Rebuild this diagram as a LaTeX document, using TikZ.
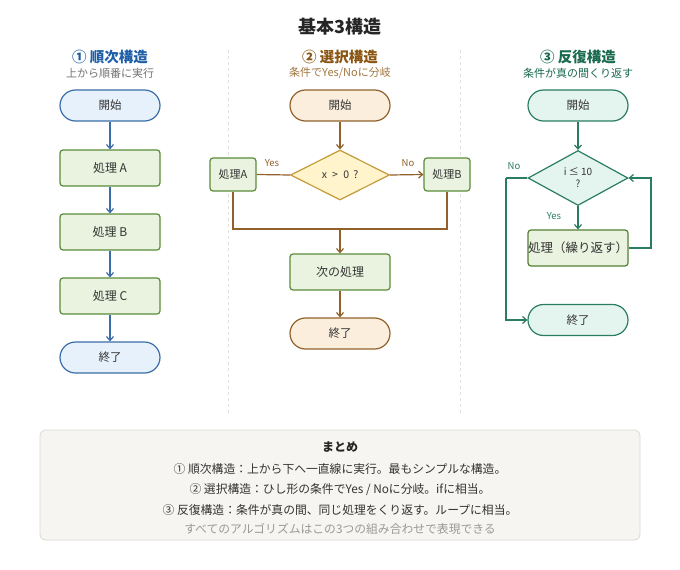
\documentclass[tikz,border=0pt]{standalone}
\usepackage{fontspec}
\setmainfont{Noto Sans CJK JP}
\usetikzlibrary{arrows.meta,shapes.geometric}
\definecolor{bstroke}{HTML}{3A6EA8}
\definecolor{bfill}{HTML}{E7F1FB}
\definecolor{gstroke}{HTML}{5B8C3A}
\definecolor{gfill}{HTML}{EAF3E0}
\definecolor{brstroke}{HTML}{92612A}
\definecolor{brfill}{HTML}{FBEEDD}
\definecolor{ystroke}{HTML}{C49A3A}
\definecolor{yfill}{HTML}{FFF4CC}
\definecolor{tstroke}{HTML}{2A7D63}
\definecolor{tfill}{HTML}{E4F5EF}
\definecolor{txt}{HTML}{333333}
\definecolor{h1}{HTML}{1F5FA8}
\definecolor{h2}{HTML}{8A5512}
\definecolor{h3}{HTML}{1A6A50}
\definecolor{sumfill}{HTML}{F6F5F1}
\definecolor{sumstroke}{HTML}{D9D8D2}
\tikzset{
  pill/.style={rectangle, rounded corners=15.5pt, minimum width=100pt, minimum height=31pt, line width=1.2pt, text=txt, font=\fontsize{11.5}{12}\selectfont, inner sep=0pt},
  proc/.style={rectangle, rounded corners=3pt, draw=gstroke, fill=gfill, minimum width=100pt, minimum height=36pt, line width=1.2pt, text=txt, font=\fontsize{12}{13}\selectfont, inner sep=0pt},
  smallproc/.style={proc, minimum width=46pt, minimum height=33pt, font=\fontsize{11}{12}\selectfont},
  dia/.style={diamond, line width=1.2pt, inner sep=0pt, text=txt, font=\fontsize{10.5}{12}\selectfont},
  arr/.style={-{Straight Barb[length=4pt,width=7pt]}, line width=1.2pt},
  ln/.style={line width=1.2pt},
  lbl/.style={font=\fontsize{9.5}{10}\selectfont},
  head/.style={font=\bfseries\fontsize{14.5}{16}\selectfont},
  sub/.style={font=\fontsize{11}{12}\selectfont},
  sumtxt/.style={font=\fontsize{11.8}{13}\selectfont, text=txt},
  divider/.style={draw=black!12, dashed, line width=0.8pt}
}
\begin{document}
\begin{tikzpicture}[x=1pt,y=-1pt]
\fill[white] (0,0) rectangle (680,570);
\useasboundingbox (0,0) rectangle (680,570);
\node[font=\bfseries\fontsize{18}{20}\selectfont, text=black!85] (title) at (340,27) {基本3構造};
\draw[divider] (228,50) -- (228,415);
\draw[divider] (460,50) -- (460,415);
% column 1
\node[head, text=h1] (h1t) at (110,57) {① 順次構造};
\node[sub, text=black!55] (s1) at (110,73) {上から順番に実行};
\node[pill, draw=bstroke, fill=bfill] (a1) at (110,105.5) {開始};
\node[proc] (a2) at (110,168) {処理 A};
\node[proc] (a3) at (110,232) {処理 B};
\node[proc] (a4) at (110,296) {処理 C};
\node[pill, draw=bstroke, fill=bfill] (a5) at (110,357.5) {終了};
\foreach \p/\q in {a1/a2,a2/a3,a3/a4,a4/a5} \draw[arr, bstroke] (\p) -- (\q);
% column 2
\node[head, text=h2] (h2t) at (340,57) {② 選択構造};
\node[sub, text=h2!80] (s2) at (340,73) {条件でYes/Noに分岐};
\node[pill, draw=brstroke, fill=brfill] (b1) at (340,105.5) {開始};
\node[dia, draw=ystroke, fill=yfill, minimum width=99pt, minimum height=50pt] (bd) at (340,175) {x \;>\; 0 \,?};
\node[smallproc] (bA) at (233,174.5) {処理A};
\node[smallproc] (bB) at (447,174.5) {処理B};
\node[proc] (b2) at (340,272) {次の処理};
\node[pill, draw=brstroke, fill=brfill] (b3) at (340,333.5) {終了};
\coordinate (bj) at (340,229);
\draw[arr, brstroke] (b1) -- (bd.north);
\draw[ln, brstroke] (bd.west) -- (bA.east);
\draw[arr, brstroke] (bd.east) -- (bB.west);
\node[lbl, text=brstroke] (yes2) at (272,163) {Yes};
\node[lbl, text=brstroke] (no2) at (408,163) {No};
\draw[ln, brstroke] (bA.south) |- (bj) -| (bB.south);
\draw[arr, brstroke] (bj) -- (b2.north);
\draw[arr, brstroke] (b2) -- (b3);
% column 3
\node[head, text=h3] (h3t) at (578,57) {③ 反復構造};
\node[sub, text=h3] (s3) at (578,73) {条件が真の間くり返す};
\node[pill, draw=tstroke, fill=tfill] (c1) at (578,105.5) {開始};
\node[dia, draw=tstroke, fill=tfill, minimum width=100pt, minimum height=55pt, align=center, font=\fontsize{10}{12}\selectfont] (cd) at (578,178) {i ≤ 10\\?};
\node[proc, draw=gstroke!90!black, font=\fontsize{12.5}{13}\selectfont] (c2) at (578,248) {処理（繰り返す）};
\node[pill, draw=tstroke, fill=tfill] (c3) at (578,320) {終了};
\coordinate (cr) at (651,178);
\coordinate (cl) at (506,178);
\draw[arr, tstroke] (c1) -- (cd.north);
\draw[arr, tstroke] (cd.south) -- (c2.north);
\node[lbl, text=tstroke] (yes3) at (554,216) {Yes};
\draw[arr, tstroke] (c2.east) -| (cr) -- (cd.east);
\draw[ln, tstroke] (cd.west) -- (cl);
\draw[arr, tstroke] (cl) |- (c3.west);
\node[lbl, text=tstroke] (no3) at (514,166) {No};
% summary
\draw[draw=sumstroke, fill=sumfill, rounded corners=6pt, line width=0.8pt] (40,430) rectangle (640,540);
\node[font=\bfseries\fontsize{12}{13}\selectfont, text=black!85] (st) at (340,447) {まとめ};
\node[sumtxt] (l1) at (340,469) {① 順次構造：上から下へ一直線に実行。最もシンプルな構造。};
\node[sumtxt] (l2) at (340,490) {② 選択構造：ひし形の条件でYes / Noに分岐。ifに相当。};
\node[sumtxt] (l3) at (340,510) {③ 反復構造：条件が真の間、同じ処理をくり返す。ループに相当。};
\node[sumtxt, text=black!40] (l4) at (340,529) {すべてのアルゴリズムはこの3つの組み合わせで表現できる};
\end{tikzpicture}
\end{document}
